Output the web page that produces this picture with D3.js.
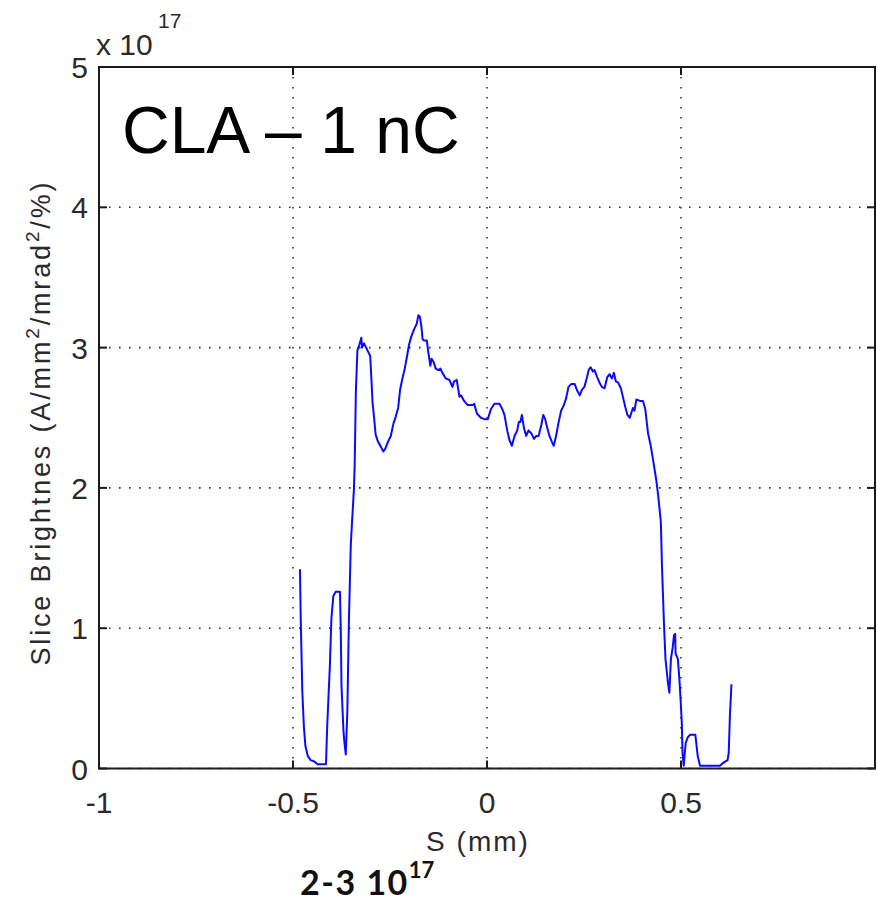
<!DOCTYPE html>
<meta charset="utf-8">
<script src="https://d3js.org/d3.v7.min.js"></script>
<style>
  body { margin: 0; background: #fff; }
  text { font-family: "Liberation Sans", Arial, Helvetica, sans-serif; }
</style>
<div id="chart"></div>
<script>
  // slice position S (mm) and brightness (x 1e17)
  const sPos = [-0.482, -0.480, -0.476, -0.472, -0.468, -0.462, -0.455, -0.445, -0.437, -0.415,
    -0.412, -0.405, -0.401, -0.396, -0.390, -0.379, -0.377, -0.375, -0.370, -0.368,
    -0.364, -0.360, -0.356, -0.351, -0.343, -0.341, -0.338, -0.334, -0.329, -0.324,
    -0.322, -0.317, -0.308, -0.301, -0.298, -0.295, -0.291, -0.287, -0.281, -0.275,
    -0.267, -0.262, -0.255, -0.248, -0.241, -0.235, -0.229, -0.224, -0.218, -0.212,
    -0.206, -0.201, -0.195, -0.188, -0.181, -0.177, -0.173, -0.169, -0.166, -0.162,
    -0.155, -0.152, -0.146, -0.143, -0.138, -0.132, -0.126, -0.120, -0.115, -0.106,
    -0.097, -0.089, -0.085, -0.078, -0.071, -0.067, -0.059, -0.050, -0.037, -0.033,
    -0.026, -0.016, -0.007, 0.002, 0.010, 0.019, 0.032, 0.038, 0.045, 0.052,
    0.058, 0.064, 0.071, 0.078, 0.082, 0.086, 0.090, 0.095, 0.101, 0.107,
    0.114, 0.121, 0.127, 0.133, 0.140, 0.145, 0.150, 0.155, 0.161, 0.167,
    0.172, 0.178, 0.184, 0.191, 0.198, 0.204, 0.210, 0.217, 0.226, 0.233,
    0.239, 0.245, 0.251, 0.258, 0.262, 0.267, 0.273, 0.277, 0.284, 0.290,
    0.296, 0.303, 0.310, 0.316, 0.322, 0.327, 0.332, 0.338, 0.345, 0.351,
    0.357, 0.362, 0.368, 0.376, 0.380, 0.385, 0.394, 0.402, 0.408, 0.415,
    0.422, 0.428, 0.432, 0.436, 0.441, 0.448, 0.451, 0.456, 0.460, 0.466,
    0.470, 0.474, 0.479, 0.482, 0.485, 0.486, 0.492, 0.496, 0.499, 0.502,
    0.504, 0.507, 0.512, 0.517, 0.523, 0.537, 0.543, 0.549, 0.600, 0.609,
    0.620, 0.623, 0.626, 0.630];
  const brightness = [1.42, 1.06, 0.55, 0.30, 0.16, 0.09, 0.06, 0.05, 0.03, 0.03,
    0.29, 0.73, 1.07, 1.23, 1.26, 1.26, 1.01, 0.59, 0.27, 0.20,
    0.10, 0.40, 1.04, 1.60, 1.99, 2.17, 2.68, 2.98, 3.02, 3.07,
    3.00, 3.03, 2.98, 2.94, 2.78, 2.61, 2.50, 2.38, 2.33, 2.30,
    2.26, 2.28, 2.33, 2.37, 2.46, 2.51, 2.57, 2.70, 2.78, 2.85,
    2.94, 3.02, 3.08, 3.13, 3.17, 3.23, 3.22, 3.15, 3.06, 3.05,
    3.05, 2.98, 2.87, 2.92, 2.90, 2.85, 2.84, 2.85, 2.82, 2.78,
    2.77, 2.72, 2.76, 2.77, 2.65, 2.66, 2.62, 2.59, 2.59, 2.60,
    2.53, 2.50, 2.49, 2.49, 2.56, 2.60, 2.60, 2.57, 2.52, 2.41,
    2.34, 2.30, 2.37, 2.41, 2.47, 2.47, 2.52, 2.43, 2.37, 2.41,
    2.39, 2.35, 2.37, 2.37, 2.45, 2.52, 2.49, 2.43, 2.37, 2.33,
    2.30, 2.37, 2.46, 2.55, 2.59, 2.64, 2.72, 2.74, 2.74, 2.69,
    2.66, 2.70, 2.72, 2.79, 2.84, 2.86, 2.83, 2.84, 2.79, 2.75,
    2.72, 2.71, 2.79, 2.81, 2.78, 2.82, 2.76, 2.75, 2.71, 2.64,
    2.57, 2.52, 2.50, 2.57, 2.55, 2.63, 2.62, 2.62, 2.56, 2.39,
    2.30, 2.20, 2.13, 2.06, 1.95, 1.76, 1.44, 1.04, 0.78, 0.62,
    0.54, 0.78, 0.87, 0.95, 0.96, 0.82, 0.78, 0.63, 0.49, 0.33,
    0.11, 0.02, 0.18, 0.22, 0.24, 0.24, 0.09, 0.02, 0.02, 0.04,
    0.06, 0.11, 0.37, 0.60];

  const xTicks = [-1, -0.5, 0, 0.5, 1];
  const xTickLabels = ["-1", "-0.5", "0", "0.5", ""];
  const yTicks = [0, 1, 2, 3, 4, 5];

  const width = 877, height = 905;
  const plotL = 99, plotR = 875, plotT = 67, plotB = 768.5;

  const svg = d3.select("#chart").append("svg")
    .attr("width", width)
    .attr("height", height);

  const x = d3.scaleLinear().domain([-1, 1]).range([plotL, plotR]);
  const y = d3.scaleLinear().domain([0, 5]).range([plotB, plotT]);

  // dotted grid
  const grid = svg.append("g")
    .attr("stroke", "#333")
    .attr("stroke-width", 1.6)
    .attr("stroke-dasharray", "1.6,8.4");
  grid.selectAll(".gx").data(xTicks).join("line")
    .attr("x1", d => x(d)).attr("x2", d => x(d))
    .attr("y1", plotB).attr("y2", plotT);
  grid.selectAll(".gy").data(yTicks).join("line")
    .attr("y1", d => y(d)).attr("y2", d => y(d))
    .attr("x1", plotL).attr("x2", plotR);

  // data line
  const line = d3.line()
    .x((d, i) => x(sPos[i]))
    .y(d => y(d));
  svg.append("path")
    .datum(brightness)
    .attr("d", line)
    .attr("fill", "none")
    .attr("stroke", "#0a0aff")
    .attr("stroke-width", 2)
    .attr("stroke-linejoin", "round");

  // axes with inward ticks on all four sides
  const tickLen = 8;
  const axisG = svg.append("g").attr("stroke", "#1a1a1a").attr("stroke-width", 2);
  axisG.append("rect")
    .attr("x", plotL).attr("y", plotT)
    .attr("width", plotR - plotL).attr("height", plotB - plotT)
    .attr("fill", "none");
  xTicks.forEach(t => {
    axisG.append("line").attr("x1", x(t)).attr("x2", x(t)).attr("y1", plotB).attr("y2", plotB - tickLen);
    axisG.append("line").attr("x1", x(t)).attr("x2", x(t)).attr("y1", plotT).attr("y2", plotT + tickLen);
  });
  yTicks.forEach(t => {
    axisG.append("line").attr("y1", y(t)).attr("y2", y(t)).attr("x1", plotL).attr("x2", plotL + tickLen);
    axisG.append("line").attr("y1", y(t)).attr("y2", y(t)).attr("x1", plotR).attr("x2", plotR - tickLen);
  });

  const tickColor = "#2a2a2a";
  svg.append("g").selectAll("text").data(xTicks).join("text")
    .attr("x", d => x(d))
    .attr("y", 813)
    .attr("text-anchor", "middle")
    .attr("font-size", 30)
    .attr("fill", tickColor)
    .text((d, i) => xTickLabels[i]);

  svg.append("g").selectAll("text").data(yTicks).join("text")
    .attr("x", 88)
    .attr("y", d => y(d) + 11)
    .attr("text-anchor", "end")
    .attr("font-size", 30)
    .attr("fill", tickColor)
    .text(d => d);

  // exponent label
  const expo = svg.append("text").attr("fill", tickColor).attr("font-size", 30);
  expo.append("tspan").attr("x", 96).attr("y", 55).text("x 10");
  expo.append("tspan").attr("x", 158).attr("y", 28).attr("font-size", 21).text("17");

  // x label
  svg.append("text")
    .attr("x", 478).attr("y", 851)
    .attr("text-anchor", "middle")
    .attr("font-size", 28)
    .attr("letter-spacing", 2)
    .attr("fill", tickColor)
    .text("S (mm)");

  // y label
  const yl = svg.append("text")
    .attr("transform", "translate(50,424) rotate(-90)")
    .attr("text-anchor", "middle")
    .attr("font-size", 27)
    .attr("fill", tickColor)
    .attr("textLength", 483)
    .attr("lengthAdjust", "spacing");
  yl.append("tspan").text("Slice Brightnes (A/mm");
  yl.append("tspan").attr("font-size", 19).attr("dy", -11).text("2");
  yl.append("tspan").attr("dy", 11).text("/mrad");
  yl.append("tspan").attr("font-size", 19).attr("dy", -11).text("2");
  yl.append("tspan").attr("dy", 11).text("/%)");

  // title inside plot
  svg.append("text")
    .attr("x", 122).attr("y", 153)
    .attr("font-size", 66)
    .attr("fill", "#000")
    .text("CLA \u2013 1 nC");

  // annotation below
  const ann = svg.append("text")
    .style("font-family", "Lato, 'Open Sans', sans-serif")
    .style("font-weight", "bold")
    .attr("fill", "#111");
  ann.append("tspan").attr("x", 300).attr("y", 895).attr("font-size", 34).attr("letter-spacing", 1.5).text("2-3 10");
  ann.append("tspan").attr("dy", -17).attr("font-size", 22).text("17");
</script>
